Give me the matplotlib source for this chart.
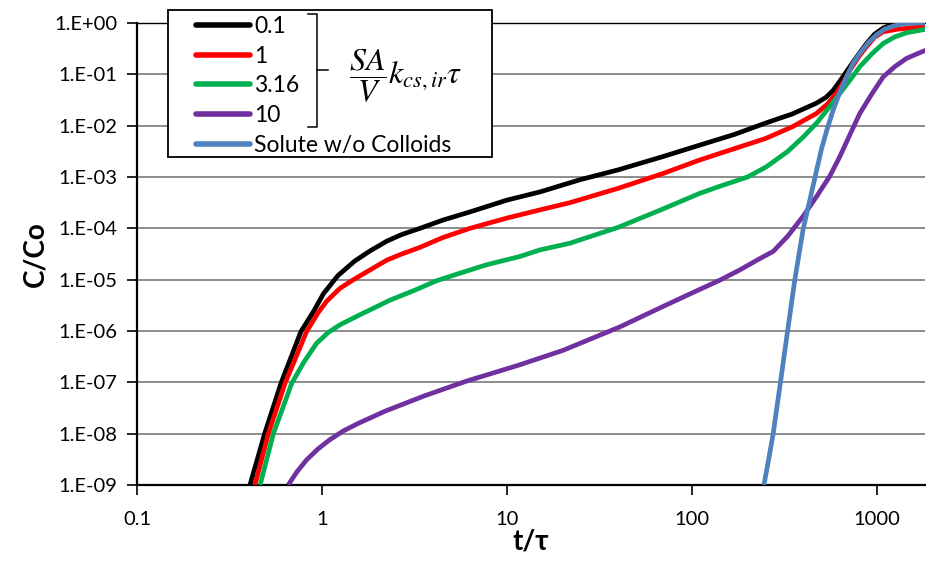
import numpy as np
import matplotlib
matplotlib.use('Agg')
import matplotlib.pyplot as plt
from matplotlib.lines import Line2D
from matplotlib.patches import Rectangle
from matplotlib.ticker import FixedLocator, FuncFormatter, NullLocator

# values (x = t/tau, y = log10(C/Co))
x_01 = [0.408, 0.49, 0.60, 0.77, 0.9, 1.02, 1.22, 1.5, 1.8, 2.24, 2.7, 3.39, 4.5, 6.31, 10, 15.1, 25, 40, 70, 110,
        170, 250, 350, 472, 530, 581, 640, 715, 800, 879, 970, 1081, 1200, 1330, 1820]
y_01 = [-9, -8, -7.02, -6.01, -5.62, -5.27, -4.92, -4.64, -4.45, -4.25, -4.12, -4.0, -3.84, -3.68, -3.45, -3.29, -3.05,
        -2.86, -2.6, -2.38, -2.17, -1.95, -1.77, -1.56, -1.45, -1.31, -1.1, -0.85, -0.6, -0.40, -0.22, -0.10, -0.03, 0, 0]

x_1 = [0.434, 0.513, 0.631, 0.826, 0.95, 1.06, 1.25, 1.48, 1.8, 2.24, 2.7, 3.39, 4.5, 6.31, 10, 15.1, 21.9, 40, 70,
       110, 141.6, 250, 350, 472, 540, 603, 660, 715, 800, 879, 970, 1081, 1300, 1636, 1820]
y_1 = [-9, -8, -7.02, -6.01, -5.65, -5.42, -5.17, -5.0, -4.82, -4.62, -4.5, -4.37, -4.18, -4.0, -3.8, -3.64, -3.5,
       -3.22, -2.93, -2.67, -2.54, -2.25, -2.02, -1.76, -1.58, -1.37, -1.15, -0.92, -0.65, -0.46, -0.28, -0.17, -0.12,
       -0.09, -0.07]

x_316 = [0.463, 0.546, 0.686, 0.80, 0.935, 1.08, 1.25, 1.57, 2.33, 3.2, 4.17, 5.5, 7.76, 11.7, 15.1, 21.9, 40, 70,
         110, 141.6, 200, 253, 330, 400, 472, 550, 631, 720, 809, 940, 1081, 1250, 1450, 1841]
y_316 = [-9, -8, -7.02, -6.6, -6.24, -6.03, -5.88, -5.7, -5.40, -5.2, -5.02, -4.88, -4.71, -4.55, -4.42, -4.29,
         -3.98, -3.62, -3.32, -3.18, -3.0, -2.8, -2.5, -2.22, -1.95, -1.65, -1.37, -1.1, -0.85, -0.6, -0.40, -0.27,
         -0.19, -0.12]

x_10 = [0.657, 0.73, 0.826, 0.95, 1.10, 1.3, 1.57, 2.2, 3.6, 6, 11.7, 20, 40.8, 70, 100, 141.6, 181.6, 230, 275,
        330, 400, 472, 557, 631, 720, 809, 940, 1081, 1250, 1445, 1650, 1841]
y_10 = [-9, -8.75, -8.51, -8.3, -8.12, -7.95, -7.80, -7.56, -7.26, -6.98, -6.66, -6.38, -5.92, -5.52, -5.26, -5.01,
        -4.81, -4.6, -4.45, -4.15, -3.76, -3.38, -2.98, -2.60, -2.15, -1.76, -1.38, -1.05, -0.85, -0.69, -0.6, -0.53]

x_sol = [245, 260, 275, 301, 329, 360, 400, 434, 470, 502, 540, 581, 630, 686, 740, 809, 900, 996, 1100, 1224, 1400,
         1500, 1820]
y_sol = [-9, -8.5, -8, -7, -6, -5, -4, -3.45, -2.9, -2.45, -2.05, -1.69, -1.35, -1.05, -0.8, -0.59, -0.38, -0.23,
         -0.12, -0.06, -0.01, 0, 0]

labels = ['0.1', '1', '3.16', '10', 'Solute w/o Colloids']
colors = ['#000000', '#FF0000', '#00B050', '#7030A0', '#4F81BD']
x_ticks = [0.1, 1, 10, 100, 1000]
y_exps = list(range(-9, 1))

plt.rcParams['font.family'] = ['Lato', 'DejaVu Sans']
plt.rcParams['mathtext.fontset'] = 'stix'

W, H = 926, 561
fig = plt.figure(figsize=(W / 100, H / 100), dpi=100)
ax = fig.add_axes([137 / W, 1 - 485 / H, (925 - 137) / W, (485 - 23) / H])

series = [(x_01, y_01), (x_1, y_1), (x_316, y_316), (x_10, y_10), (x_sol, y_sol)]
handles = []
for (xs, ys), c, lab in zip(series, colors, labels):
    h, = ax.plot(xs, 10.0 ** np.array(ys), color=c, lw=3.4, label=lab,
                 solid_capstyle='butt', solid_joinstyle='round', zorder=3)
    handles.append(h)

ax.set_xscale('log')
ax.set_yscale('log')
ax.set_xlim(0.1, 1820)
ax.set_ylim(1e-9, 1)

ax.xaxis.set_major_locator(FixedLocator(x_ticks))
ax.xaxis.set_minor_locator(NullLocator())
ax.xaxis.set_major_formatter(FuncFormatter(lambda v, p: f'{v:g}'))
ax.yaxis.set_major_locator(FixedLocator([10.0 ** e for e in y_exps]))
ax.yaxis.set_minor_locator(NullLocator())
ax.yaxis.set_major_formatter(FuncFormatter(lambda v, p: f'1.E{int(round(np.log10(v))):+03d}'))

ax.tick_params(axis='both', direction='out', length=7, width=1.2, labelsize=14.5,
               colors='black', pad=7)
ax.tick_params(axis='x', pad=12)
ax.grid(axis='y', color='#8c8c8c', lw=1.4)
ax.set_axisbelow(True)
for s in ['left', 'bottom']:
    ax.spines[s].set_linewidth(1.6)
ax.spines['top'].set_linewidth(1.0)
ax.spines['right'].set_visible(False)

ax.set_xlabel('t/τ', fontsize=20, fontweight='bold', labelpad=0)
ax.set_ylabel('C/Co', fontsize=20, fontweight='bold', labelpad=4)

# legend box with bracket and formula
frame = Rectangle((168 / W, 1 - 157 / H), (492 - 168) / W, (157 - 10) / H,
                  transform=fig.transFigure, facecolor='white', edgecolor='black',
                  lw=1.3, zorder=4)
fig.add_artist(frame)

leg = fig.legend(handles, labels, loc='upper left', bbox_to_anchor=(196 / W, 1 - 16 / H),
                 frameon=False, fontsize=16.5, handlelength=2.35, handletextpad=0.2,
                 labelspacing=0.38, borderpad=0, borderaxespad=0)
leg.set_zorder(5)
for lh in leg.get_lines():
    lh.set_linewidth(4)
    lh.set_solid_capstyle('round')

bx, by = [308, 317, 317, 308], [14, 14, 127, 127]
fig.add_artist(Line2D([v / W for v in bx], [1 - v / H for v in by], color='black', lw=1.1,
                      transform=fig.transFigure, zorder=6))
fig.add_artist(Line2D([317 / W, 328 / W], [1 - 70 / H, 1 - 70 / H], color='black', lw=1.1,
                      transform=fig.transFigure, zorder=6))
fig.text(406 / W, 1 - 76 / H, r'$\dfrac{SA}{V}k_{cs,ir}\tau$', fontsize=23,
         ha='center', va='center', zorder=6)

fig.savefig('out.png', dpi=100)
